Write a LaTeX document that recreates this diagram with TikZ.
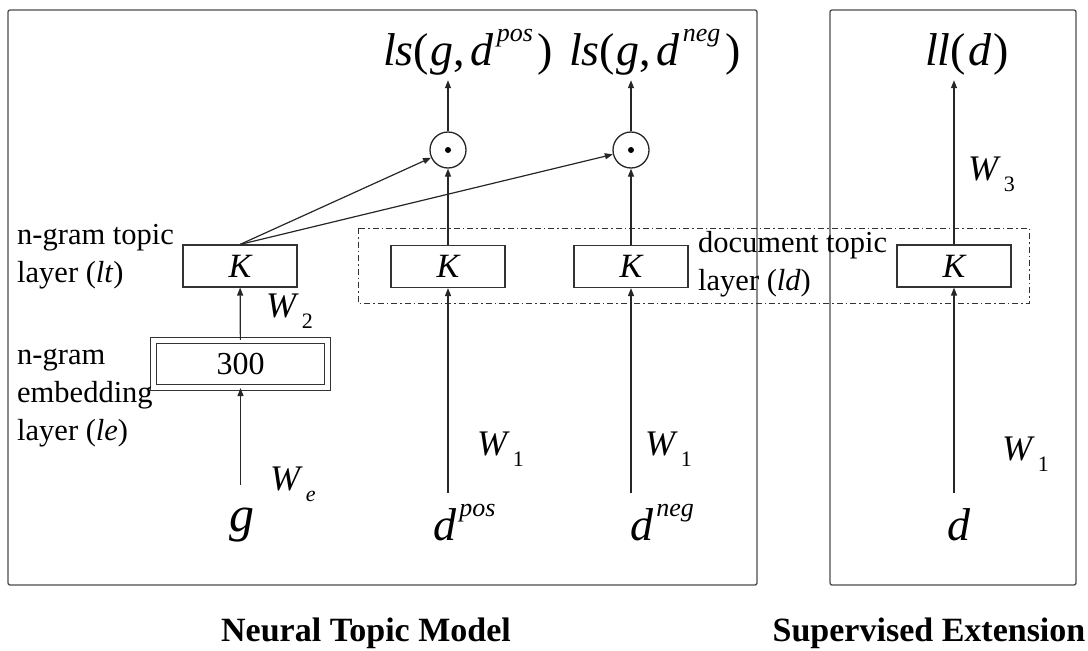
\documentclass[tikz,border=0pt]{standalone}
\usepackage{fontspec}
\setmainfont{Liberation Serif}
\usetikzlibrary{arrows.meta,positioning,calc}
\newcommand{\sups}[1]{\kern3pt\raisebox{24pt}{\fontsize{26}{26}\selectfont\itshape #1}}
\newcommand{\subs}[1]{\kern3pt\raisebox{-0.32em}{\fontsize{22}{22}\selectfont #1}}

\begin{document}
\begin{tikzpicture}[
    x=1pt, y=-1pt,
    frame/.style={draw=black!70, rounded corners=2pt, line width=1.3pt},
    layerbox/.style={
      rectangle, draw=black!80, line width=1.1pt, inner sep=0pt,
      minimum width=114pt, minimum height=42pt,
      font=\fontsize{34}{34}\selectfont\itshape
    },
    embbox/.style={
      rectangle, draw=black!80, line width=1.1pt, double, double distance=5pt,
      inner sep=0pt, minimum width=174pt, minimum height=47pt,
      font=\fontsize{32}{32}\selectfont
    },
    prodnode/.style={
      circle, draw=black!85, line width=1.3pt, minimum size=36pt, inner sep=0pt,
      path picture={\fill (path picture bounding box.center) circle (3pt);}
    },
    docgroup/.style={
      draw=black!80, line width=1pt,
      dash pattern=on 6pt off 3pt on 1.5pt off 3pt
    },
    arr/.style={
      -{Triangle[length=8pt,width=6pt]}, line width=1.2pt, black!85
    },
    biglab/.style={font=\fontsize{46}{50}\selectfont, inner sep=3pt},
    inlab/.style={biglab, text height=44pt},
    outlab/.style={biglab, text depth=12pt},
    wlab/.style={font=\fontsize{36}{36}\selectfont, inner sep=0pt},
    txtlab/.style={font=\fontsize{30.5}{38}\selectfont, align=left, inner sep=0pt},
    titlab/.style={font=\fontsize{34}{40}\selectfont\bfseries, inner sep=0pt}
  ]
  \useasboundingbox (0,0) rectangle (1088,651);

  % --- frames ---
  \draw[frame] (8,10) rectangle (757,585);
  \draw[frame] (830,10) rectangle (1076,585);
  \draw[docgroup] (358,228) rectangle (1029,303);

  % --- layers ---
  \node[layerbox] (Klt) at (240,266) {K};
  \node[layerbox] (Kpos) at (448,266.5) {K};
  \node[layerbox] (Kneg) at (631,266.5) {K};
  \node[layerbox] (Ksup) at (954,266) {K};
  \node[embbox] (emb) at (240.5,364) {300};

  \node[prodnode] (dotP) at (448,150) {};
  \node[prodnode] (dotN) at (631,150) {};

  % --- inputs ---
  \node[inlab, anchor=base west, text height=43pt, font=\fontsize{50}{52}\selectfont] (g) at (226,531) {\textit{g}};
  \node[inlab, anchor=base west] (dpos) at (430,540) {\textit{d}\sups{pos}};
  \node[inlab, anchor=base west] (dneg) at (627,540) {\textit{d}\sups{neg}};
  \node[inlab, anchor=base west] (dsup) at (944,540) {\textit{d}};

  % --- outputs ---
  \node[outlab, anchor=base west] (lsP) at (380,65)
    {\textit{ls}(\kern1pt\textit{g},\kern6pt\textit{d}\sups{pos}\kern5pt)};
  \node[outlab, anchor=base west] (lsN) at (566,65)
    {\textit{ls}(\kern1pt\textit{g},\kern6pt\textit{d}\sups{neg}\kern5pt)};
  \node[outlab, anchor=base west] (lld) at (922,65)
    {\textit{ll}(\kern2pt\textit{d}\kern2pt)};

  % --- connectors ---
  \draw[arr] (g.north -| emb) -- (emb);
  \draw[arr] (emb) -- (Klt);
  \draw[arr] (Klt.north) -- (dotP);
  \draw[arr] (Klt.north) -- (dotN);
  \draw[arr] (dpos.north -| Kpos) -- (Kpos);
  \draw[arr] (dneg.north -| Kneg) -- (Kneg);
  \draw[arr] (dsup.north -| Ksup) -- (Ksup);
  \draw[arr] (Kpos) -- (dotP);
  \draw[arr] (Kneg) -- (dotN);
  \draw[arr] (dotP) -- (dotP |- lsP.south);
  \draw[arr] (dotN) -- (dotN |- lsN.south);
  \draw[arr] (Ksup) -- (Ksup |- lld.south);

  % --- weights ---
  \node[wlab, anchor=base west] (wE) at (270,490) {\textit{W}\subs{\textit{e}}};
  \node[wlab, anchor=base west] (w2) at (266,317) {\textit{W}\subs{2}};
  \node[wlab, anchor=base west] (w1P) at (477,455) {\textit{W}\subs{1}};
  \node[wlab, anchor=base west] (w1N) at (645,455) {\textit{W}\subs{1}};
  \node[wlab, anchor=base west] (w1S) at (1002,460) {\textit{W}\subs{1}};
  \node[wlab, anchor=base west] (w3) at (968,180) {\textit{W}\subs{3}};

  % --- layer names ---
  \node[txtlab, anchor=north west] (ltlab) at (17,224) {n-gram topic\\layer (\textit{lt})};
  \node[txtlab, anchor=north west] (lelab) at (17,349) {n-gram\\embedding\\layer (\textit{le})};
  \node[txtlab, anchor=north west] (ldlab) at (698,231) {document topic\\layer (\textit{ld})};

  % --- titles ---
  \node[titlab, anchor=base] (ntm) at (366,641) {Neural Topic Model};
  \node[titlab, anchor=base] (sup) at (929,641) {Supervised Extension};
\end{tikzpicture}
\end{document}
